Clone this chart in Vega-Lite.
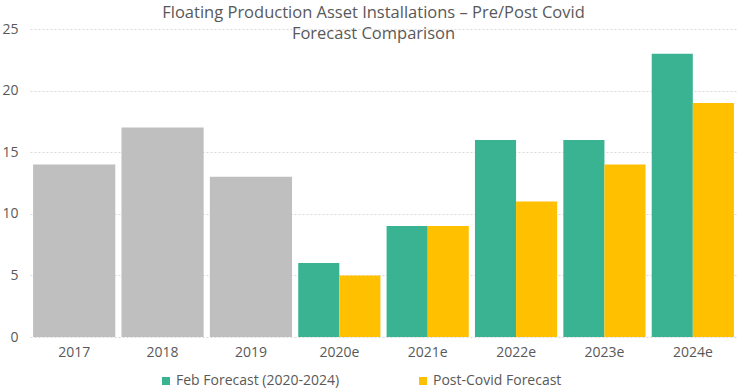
{
  "$schema": "https://vega.github.io/schema/vega-lite/v6.json",
  "width": 707,
  "height": 308,
  "autosize": {"type": "none"},
  "padding": {"left": 30, "top": 29, "right": 1, "bottom": 53},
  "background": "white",
  "config": {
    "view": {"stroke": null},
    "font": "Open Sans"
  },
  "title": {
    "text": ["Floating Production Asset Installations – Pre/Post Covid", "Forecast Comparison"],
    "fontSize": 16.5,
    "fontWeight": "normal",
    "color": "#595959",
    "font": "Open Sans",
    "lineHeight": 21,
    "offset": -20,
    "dx": -10,
    "anchor": "middle"
  },
  "datasets": {
    "hist": [
      {"year": "2017", "value": 14},
      {"year": "2018", "value": 17},
      {"year": "2019", "value": 13}
    ],
    "fc": [
      {"year": "2020e", "series": "Feb Forecast (2020-2024)", "value": 6},
      {"year": "2020e", "series": "Post-Covid Forecast", "value": 5},
      {"year": "2021e", "series": "Feb Forecast (2020-2024)", "value": 9},
      {"year": "2021e", "series": "Post-Covid Forecast", "value": 9},
      {"year": "2022e", "series": "Feb Forecast (2020-2024)", "value": 16},
      {"year": "2022e", "series": "Post-Covid Forecast", "value": 11},
      {"year": "2023e", "series": "Feb Forecast (2020-2024)", "value": 16},
      {"year": "2023e", "series": "Post-Covid Forecast", "value": 14},
      {"year": "2024e", "series": "Feb Forecast (2020-2024)", "value": 23},
      {"year": "2024e", "series": "Post-Covid Forecast", "value": 19}
    ]
  },
  "encoding": {
    "x": {
      "field": "year",
      "type": "nominal",
      "scale": {"domain": ["2017", "2018", "2019", "2020e", "2021e", "2022e", "2023e", "2024e"], "paddingInner": 0.07, "paddingOuter": 0.035},
      "axis": {"title": null, "labelAngle": 0, "ticks": false, "domain": false, "labelFontSize": 14, "labelColor": "#595959", "labelPadding": 8, "labelFont": "Open Sans"}
    },
    "y": {
      "field": "value",
      "type": "quantitative",
      "scale": {"domain": [0, 25]},
      "axis": {"title": null, "values": [0, 5, 10, 15, 20, 25], "ticks": false, "domain": false, "labelFontSize": 14, "labelColor": "#595959", "labelPadding": 12, "gridColor": "#d9d9d9", "gridDash": [2, 2], "labelFont": "Open Sans"}
    }
  },
  "layer": [
    {
      "data": {"name": "hist"},
      "mark": {"type": "bar", "color": "#bfbfbf"}
    },
    {
      "data": {"name": "fc"},
      "mark": {"type": "bar"},
      "encoding": {
        "xOffset": {"field": "series", "type": "nominal", "scale": {"paddingInner": 0, "paddingOuter": 0}},
        "color": {
          "field": "series",
          "type": "nominal",
          "scale": {"domain": ["Feb Forecast (2020-2024)", "Post-Covid Forecast"], "range": ["#3ab393", "#ffc000"]},
          "legend": {
            "title": null,
            "orient": "none",
            "direction": "horizontal",
            "legendX": 129,
            "legendY": 345,
            "symbolType": "square",
            "symbolSize": 64,
            "symbolStrokeWidth": 0,
            "symbolOffset": 0,
            "labelFontSize": 14,
            "labelColor": "#595959",
            "labelFont": "Open Sans",
            "labelOffset": 3,
            "labelLimit": 300,
            "columnPadding": 76
          }
        }
      }
    }
  ]
}
